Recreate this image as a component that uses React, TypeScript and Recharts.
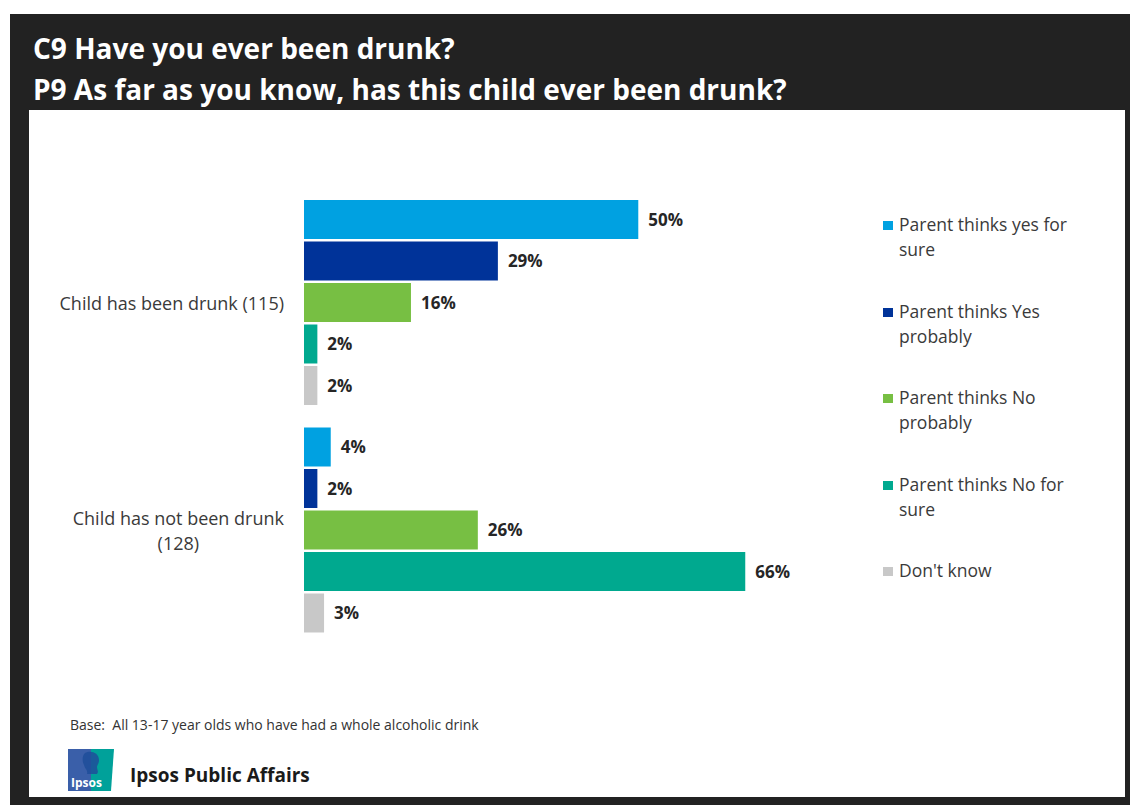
import React from "react"
import { BarChart, Bar, XAxis, YAxis, Legend, LabelList } from "recharts"

const categories = ["Child has been drunk (115)", "Child has not been drunk (128)"]
const seriesNames = [
  "Parent thinks yes for sure",
  "Parent thinks Yes probably",
  "Parent thinks No probably",
  "Parent thinks No for sure",
  "Don't know",
]
const yesForSure = [50, 4]
const yesProbably = [29, 2]
const noProbably = [16, 26]
const noForSure = [2, 66]
const dontKnow = [2, 3]

const COLORS = ["#00a1e1", "#003399", "#77bf43", "#00a98f", "#c8c8c8"]
const FONT = "'Open Sans', 'Noto Sans', sans-serif"

const seriesValues = [yesForSure, yesProbably, noProbably, noForSure, dontKnow]
const data = categories.map((name, i) => {
  const row: Record<string, string | number> = { name }
  seriesValues.forEach((vals, s) => {
    row["s" + s] = vals[i]
  })
  return row
})

let canvasCtx: CanvasRenderingContext2D | null = null
function measure(text: string, font: string) {
  if (!canvasCtx) canvasCtx = document.createElement("canvas").getContext("2d")
  if (!canvasCtx) return text.length * 8
  canvasCtx.font = font
  return canvasCtx.measureText(text).width
}

function wrap(text: string, maxChars: number) {
  const lines: string[] = []
  let cur = ""
  text.split(" ").forEach((w) => {
    const next = cur ? cur + " " + w : w
    if (next.length > maxChars && cur) {
      lines.push(cur)
      cur = w
    } else {
      cur = next
    }
  })
  if (cur) lines.push(cur)
  return lines
}

function CategoryTick(props: any) {
  const { x, y, payload } = props
  const lines = wrap(String(payload.value), 26)
  const font = `18px ${FONT}`
  const blockW = Math.max(...lines.map((l) => measure(l, font)))
  const lh = 25
  const startY = y - ((lines.length - 1) * lh) / 2
  return (
    <g>
      {lines.map((l, i) => (
        <text
          key={i}
          x={lines.length > 1 ? x - blockW / 2 : x}
          y={startY + i * lh}
          textAnchor={lines.length > 1 ? "middle" : "end"}
          dominantBaseline="central"
          fontSize={18}
          fontFamily={FONT}
          fill="#3a3a3a"
        >
          {l}
        </text>
      ))}
    </g>
  )
}

function LegendContent(props: any) {
  // keep series order top to bottom
  const items = [...(props.payload || [])].sort((a: any, b: any) =>
    String(a.dataKey).localeCompare(String(b.dataKey))
  )
  return (
    <div style={{ fontFamily: FONT }}>
      {items.map((item: any, i: number) => (
        <div
          key={i}
          style={{ display: "flex", alignItems: "flex-start", height: 86.5 }}
        >
          <div
            style={{
              width: 10,
              height: 9,
              background: item.color,
              marginTop: 9,
              marginRight: 6,
              flex: "none",
            }}
          />
          <div
            style={{
              width: 180,
              fontSize: 17.5,
              lineHeight: "25px",
              color: "#3a3a3a",
            }}
          >
            {item.value}
          </div>
        </div>
      ))}
    </div>
  )
}

function IpsosLogo() {
  return (
    <svg width={46} height={42} viewBox="0 0 46 42">
      <path d="M0 0 H23 V42 H0 Z" fill="#3a5fa9" />
      <path d="M23 0 H46 L43 42 H23 Z" fill="#00a19a" />
      <path
        d="M17 4 C22 1 31 3 31 11 C31 15 29 16 29 18 C29 21 31 22 29 25 L19 25 C20 21 17 20 16 16 C14 12 14 7 17 4 Z"
        fill="#1f4e9a"
        opacity={0.85}
      />
      <text x={3} y={38} fontSize={12} fontWeight={700} fontFamily={FONT} fill="#ffffff">
        Ipsos
      </text>
    </svg>
  )
}

export default function App() {
  return (
    <div
      style={{
        position: "absolute",
        left: 10,
        top: 14,
        width: 1120,
        height: 791,
        background: "#222222",
        fontFamily: FONT,
      }}
    >
      <div
        style={{
          position: "absolute",
          left: 23,
          top: 14,
          color: "#ffffff",
          fontWeight: 700,
          fontSize: 28,
          lineHeight: "41px",
          whiteSpace: "nowrap",
        }}
      >
        <div>C9 Have you ever been drunk?</div>
        <div>P9 As far as you know, has this child ever been drunk?</div>
      </div>
      <div
        style={{
          position: "absolute",
          left: 19,
          top: 96,
          width: 1096,
          height: 687,
          background: "#ffffff",
        }}
      >
        <BarChart
          width={1096}
          height={687}
          data={data}
          layout="vertical"
          margin={{ top: 79, right: 353, bottom: 153, left: 0 }}
          barCategoryGap={11}
          barGap={2.5}
        >
          <XAxis type="number" domain={[0, 70]} hide />
          <YAxis
            type="category"
            dataKey="name"
            width={275}
            axisLine={false}
            tickLine={false}
            tickSize={0}
            tickMargin={20}
            tick={<CategoryTick />}
          />
          <Legend
            layout="vertical"
            align="center"
            verticalAlign="middle"
            content={<LegendContent />}
            wrapperStyle={{ left: 854, top: 102, width: 240, height: 440 }}
          />
          {seriesNames.map((n, s) => (
            <Bar
              key={n}
              dataKey={"s" + s}
              name={n}
              fill={COLORS[s]}
              isAnimationActive={false}
            >
              <LabelList
                dataKey={"s" + s}
                position="right"
                offset={10}
                formatter={(v: any) => `${v}%`}
                style={{
                  fontSize: 17,
                  fontWeight: 700,
                  fill: "#262626",
                  fontFamily: FONT,
                }}
              />
            </Bar>
          ))}
        </BarChart>
        <div
          style={{
            position: "absolute",
            left: 41,
            top: 605,
            fontSize: 14,
            color: "#333333",
            whiteSpace: "pre",
          }}
        >
          {"Base:  All 13-17 year olds who have had a whole alcoholic drink"}
        </div>
        <div style={{ position: "absolute", left: 39, top: 639 }}>
          <IpsosLogo />
        </div>
        <div
          style={{
            position: "absolute",
            left: 101,
            top: 652,
            fontSize: 19,
            fontWeight: 700,
            color: "#1a1a1a",
          }}
        >
          Ipsos Public Affairs
        </div>
      </div>
    </div>
  )
}
